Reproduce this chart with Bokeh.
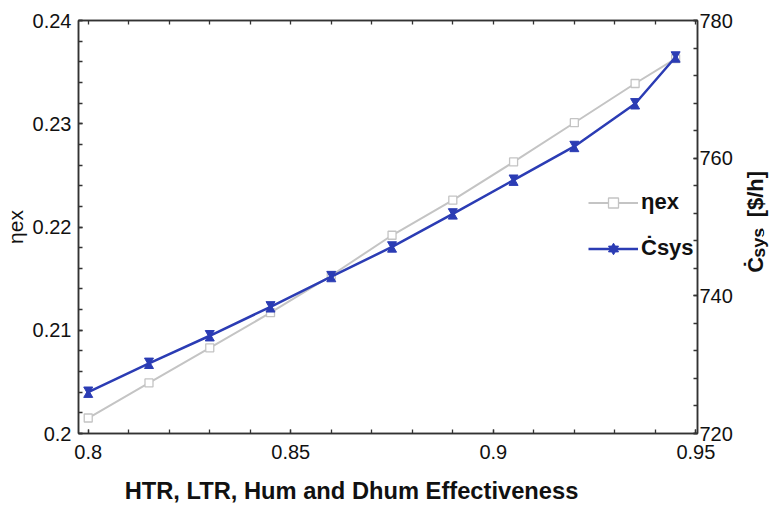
import math
import numpy as np
from bokeh.plotting import figure
from bokeh.layouts import row, column
from bokeh.models import Range1d, LinearAxis, FixedTicker, Legend, LegendItem, PrintfTickFormatter
from bokeh.core.properties import value
from bokeh.embed import file_html
from bokeh.resources import INLINE

# ---- data ----
effectiveness = [0.8, 0.815, 0.83, 0.845, 0.86, 0.875, 0.89, 0.905, 0.92, 0.935, 0.945]
eta_ex = [0.2015, 0.2049, 0.2083, 0.2117, 0.2153, 0.2192, 0.2226, 0.2263, 0.2301, 0.2339, 0.2363]
c_sys = [726.0, 730.2, 734.2, 738.4, 742.8, 747.1, 751.9, 756.8, 761.7, 767.9, 774.7]

x_major = [0.8, 0.85, 0.9, 0.95]
x_minor = [round(0.8 + 0.01 * i, 2) for i in range(16)]
y_major = [0.2, 0.21, 0.22, 0.23, 0.24]
y_minor = [round(0.2 + 0.002 * i, 3) for i in range(21)]
c_major = [720, 740, 760, 780]
c_minor = [720 + 4 * i for i in range(16)]

x_title = "HTR, LTR, Hum and Dhum Effectiveness"
y_title = "ηex"
c_title_parts = ["Ċ", "sys", "[$/h]"]

FONT = "Liberation Sans"
GRAY = "#c4c4c4"
BLUE = "#2b3cb4"
AX = "#333333"
TXT = "#111111"

W, H = 773, 507
MAIN_W, MAIN_H = 735, 470
BL, BT = 77, 20
FR_R, FR_B = 699, 433
frame_h = FR_B - BT

p = figure(width=MAIN_W, height=MAIN_H, output_backend="svg", toolbar_location=None,
           x_range=Range1d(0.7976, 0.9504), y_range=Range1d(0.2, 0.24),
           x_axis_location=None, y_axis_location=None,
           min_border_left=BL, min_border_right=MAIN_W - FR_R,
           min_border_top=BT, min_border_bottom=MAIN_H - FR_B)
p.extra_y_ranges = {"c": Range1d(720, 780)}
p.grid.visible = False
p.outline_line_color = AX
p.outline_line_width = 1.5
p.background_fill_color = "white"
p.border_fill_color = "white"


def style(ax, ticks, minor):
    ax.ticker = FixedTicker(ticks=ticks, minor_ticks=minor)
    ax.formatter = PrintfTickFormatter(format="%g")
    ax.axis_line_color = AX
    ax.axis_line_width = 1.5
    ax.major_tick_in = 4
    ax.major_tick_out = 0
    ax.minor_tick_in = 4
    ax.minor_tick_out = 0
    ax.major_tick_line_color = AX
    ax.minor_tick_line_color = AX
    ax.major_tick_line_width = 1.3
    ax.minor_tick_line_width = 1.3
    ax.major_label_text_font = FONT
    ax.major_label_text_font_size = "20px"
    ax.major_label_text_color = TXT
    ax.axis_label_text_font = FONT
    ax.axis_label_text_color = TXT


xb = LinearAxis()
style(xb, x_major, x_minor)
xb.major_label_standoff = 11
p.add_layout(xb, "below")

# top axis: ticks only
xt = LinearAxis()
style(xt, [], x_minor)
p.add_layout(xt, "above")

yl = LinearAxis(axis_label=y_title)
style(yl, y_major, y_minor)
yl.major_label_standoff = 7
yl.axis_label_standoff = 3
yl.axis_label_text_font_style = "normal"
yl.axis_label_text_font_size = "21px"
p.add_layout(yl, "left")

yr = LinearAxis(y_range_name="c")
style(yr, c_major, c_minor)
yr.major_label_standoff = 2
p.add_layout(yr, "right")

# gray eta_ex series
g_line = p.line(effectiveness, eta_ex, line_color=GRAY, line_width=2)
g_pts = p.scatter(effectiveness, eta_ex, marker="square", size=8, fill_color="white",
                  line_color=GRAY, line_width=1.3)

# blue C_sys series with hourglass markers (two opposed triangles)
MS = 9
px_per_unit = frame_h / 60.0
d = (MS * math.sqrt(3) / 2 / 3) / px_per_unit
c_arr = np.array(c_sys)
b_line = p.line(effectiveness, c_sys, y_range_name="c", line_color=BLUE, line_width=2.5)
b_up = p.scatter(effectiveness, c_arr - d, y_range_name="c", marker="triangle", size=MS,
                 fill_color=BLUE, line_color=BLUE, line_width=1)
b_dn = p.scatter(effectiveness, c_arr + d, y_range_name="c", marker="inverted_triangle", size=MS,
                 fill_color=BLUE, line_color=BLUE, line_width=1)

legend = Legend(items=[LegendItem(label="ηex", renderers=[g_line, g_pts]),
                       LegendItem(label="Ċsys", renderers=[b_line, b_up, b_dn])],
                location=(510, 172), orientation="vertical",
                glyph_width=50, glyph_height=25, label_height=25, spacing=20,
                padding=0, margin=0, label_standoff=3,
                border_line_color=None, background_fill_alpha=0,
                label_text_font=FONT, label_text_font_size="22px",
                label_text_font_style="bold", label_text_color=TXT)
p.add_layout(legend)


def strip(w, h, x0, y0):
    f = figure(width=w, height=h, output_backend="svg", toolbar_location=None,
               x_range=Range1d(x0, x0 + w), y_range=Range1d(y0 + h, y0),
               x_axis_location=None, y_axis_location=None, min_border=0)
    f.grid.visible = False
    f.outline_line_color = None
    f.background_fill_color = "white"
    f.border_fill_color = "white"
    return f


# right title strip (coordinates = page pixels)
pr = strip(W - MAIN_W, MAIN_H, MAIN_W, 0)
pr.text(x=[755, 758, 755], y=[287, 270, 224], text=c_title_parts,
        angle=[90, 90, 90], angle_units="deg",
        text_font=value(FONT), text_font_size=["22px", "18px", "22px"],
        text_font_style="bold", text_color=TXT,
        text_align="left", text_baseline="alphabetic")

# bottom title strip
pb = strip(W, H - MAIN_H, 0, MAIN_H)
pb.text(x=[351], y=[490], text=[x_title], text_font=value(FONT), text_font_size="23.7px",
        text_font_style="bold", text_color=TXT, text_align="center", text_baseline="middle")

layout = column(row(p, pr, spacing=0), pb, spacing=0)
open("out.html", "w").write(file_html(layout, INLINE))
